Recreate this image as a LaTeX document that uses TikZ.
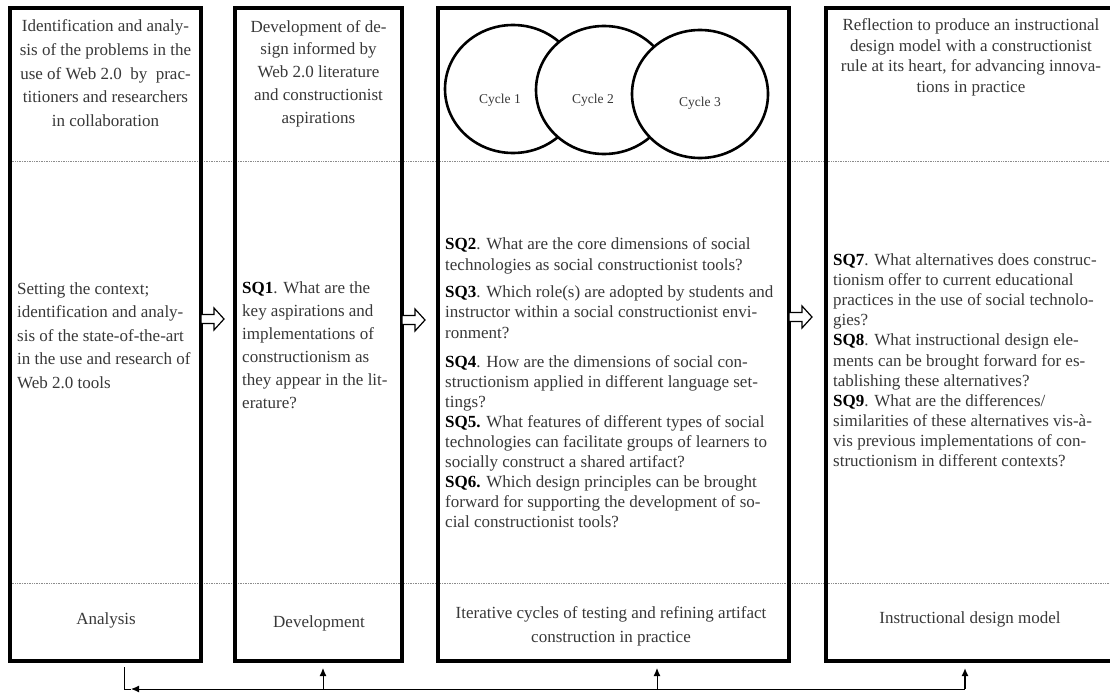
\documentclass[tikz,border=0pt]{standalone}
\usepackage{fontspec}
\setmainfont{Liberation Serif}
\usetikzlibrary{arrows.meta,shapes.geometric}
\definecolor{txt}{HTML}{383838}
\definecolor{rule}{HTML}{8C8C8C}
\begin{document}
\begin{tikzpicture}[x=1pt,y=-1pt,
  phase/.style={draw=black, line width=3.2pt, inner sep=0pt, outer sep=0pt},
  divider/.style={draw=rule, line width=0.7pt, densely dotted},
  cyc/.style={ellipse, draw=black, line width=2.6pt, fill=white, inner sep=0pt,
              minimum width=136pt, minimum height=128pt},
  cyclabel/.style={inner sep=0pt, text=txt, font=\fontsize{13.5}{16}\selectfont},
  ctext/.style={inner sep=0pt, anchor=north, align=center, text=txt},
  ltext/.style={inner sep=0pt, anchor=north west, align=left, text=txt},
  feedback/.style={draw=black, line width=1pt},
  tip/.style={-{Latex[length=8pt,width=7pt]}},
  hollow/.pic={\draw[line width=1.2pt, fill=white]
     (0,-4.5) -- (13,-4.5) -- (13,-11) -- (23,0) -- (13,11) -- (13,4.5) -- (0,4.5) -- cycle;}
]
\useasboundingbox[fill=white] (0,0) rectangle (1110,698);

% horizontal separators between the three rows
\draw[divider] (10,161) -- (1110,161);
\draw[divider] (10,583) -- (1110,583);

% the four phase columns (the last one runs past the right edge)
\node[phase, minimum width=191pt, minimum height=653pt, anchor=north west] (b1) at (10,8) {};
\node[phase, minimum width=167pt, minimum height=653pt, anchor=north west] (b2) at (235,8) {};
\node[phase, minimum width=351pt, minimum height=653pt, anchor=north west] (b3) at (438,8) {};
\node[phase, minimum width=292pt, minimum height=653pt, anchor=north west] (b4) at (826,8) {};

% top row
\node[ctext, font=\fontsize{17}{23.8}\selectfont] (t1) at (105.5,19.4)
  {Identification and analy-\\sis of the problems in the\\use of Web 2.0\ \ by\ \ prac-\\titioners and researchers\\in collaboration};
\node[ctext, font=\fontsize{17}{22.8}\selectfont] (t2) at (318.5,20)
  {Development of de-\\sign informed by\\Web 2.0 literature\\and constructionist\\aspirations};
\node[ctext, font=\fontsize{17}{20.5}\selectfont] (t4) at (971,18.5)
  {Reflection to produce an instructional\\design model with a constructionist\\rule at its heart, for advancing innova-\\tions in practice};

% overlapping cycles
\node[cyc] (c1) at (513,89) {};
\node[cyc] (c2) at (604,90) {};
\node[cyc] (c3) at (700,94) {};
\node[cyclabel] (l1) at (500,100) {Cycle 1};
\node[cyclabel] (l2) at (593,100) {Cycle 2};
\node[cyclabel] (l3) at (700,103) {Cycle 3};

% middle row
\node[ltext, font=\fontsize{17}{23.5}\selectfont] (m1) at (17,282.4)
  {Setting the context;\\identification and analy-\\sis of the state-of-the-art\\in the use and research of\\Web 2.0 tools};
\node[ltext, font=\fontsize{17}{23}\selectfont] (m2) at (242,281.5)
  {\textcolor{black}{\textbf{SQ1}}. What are the\\key aspirations and\\implementations of\\constructionism as\\they appear in the lit-\\erature?};
\node[ltext, font=\fontsize{17}{20.8}\selectfont] (q2) at (445,237.5)
  {\textcolor{black}{\textbf{SQ2}}. What are the core dimensions of social\\technologies as social constructionist tools?};
\node[ltext, font=\fontsize{17}{20.5}\selectfont] (q3) at (445,285.5)
  {\textcolor{black}{\textbf{SQ3}}. Which role(s) are adopted by students and\\instructor within a social constructionist envi-\\ronment?};
\node[ltext, font=\fontsize{17}{20}\selectfont] (q4) at (445,355.5)
  {\textcolor{black}{\textbf{SQ4}}. How are the dimensions of social con-\\structionism applied in different language set-\\tings?\\
   \textcolor{black}{\textbf{SQ5.}} What features of different types of social\\technologies can facilitate groups of learners to\\socially construct a shared artifact?\\
   \textcolor{black}{\textbf{SQ6.}} Which design principles can be brought\\forward for supporting the development of so-\\cial constructionist tools?};
\node[ltext, font=\fontsize{17}{20.1}\selectfont] (m4) at (833,253.5)
  {\textcolor{black}{\textbf{SQ7}}. What alternatives does construc-\\tionism offer to current educational\\practices in the use of social technolo-\\gies?\\
   \textcolor{black}{\textbf{SQ8}}. What instructional design ele-\\ments can be brought forward for es-\\tablishing these alternatives?\\
   \textcolor{black}{\textbf{SQ9}}. What are the differences/\\similarities of these alternatives vis-à-\\vis previous implementations of con-\\structionism in different contexts?};

% bottom row
\node[inner sep=0pt, anchor=base, text=txt, font=\fontsize{17}{20}\selectfont] (p1) at (106,624) {Analysis};
\node[inner sep=0pt, anchor=base, text=txt, font=\fontsize{17}{20}\selectfont] (p2) at (319,627) {Development};
\node[ctext, font=\fontsize{17}{24}\selectfont] (p3) at (611,606)
  {Iterative cycles of testing and refining artifact\\construction in practice};
\node[inner sep=0pt, anchor=base, text=txt, font=\fontsize{17}{20}\selectfont] (p4) at (970,623) {Instructional design model};

% hollow arrows between the columns
\pic at (b1.east |- 0,319) {hollow};
\pic at (b2.east |- 0,320) {hollow};
\pic at (b3.east |- 0,317) {hollow};

% feedback loop under the columns
\coordinate (f0) at (124,667);
\coordinate (ftip) at (131,689);
\coordinate (fend) at (965,689);
\coordinate (u2) at (323,689);
\coordinate (u3) at (657,689);
\coordinate (h2) at (323,668);
\coordinate (h3) at (657,668);
\coordinate (h4) at (965,668);
\draw[feedback] (f0) |- (ftip);
\draw[feedback, tip] (fend) -- (ftip);
\draw[feedback, tip] (u2) -- (h2);
\draw[feedback, tip] (u3) -- (h3);
\draw[feedback, tip, line width=1.5pt] (fend) -- (h4);
\end{tikzpicture}
\end{document}
